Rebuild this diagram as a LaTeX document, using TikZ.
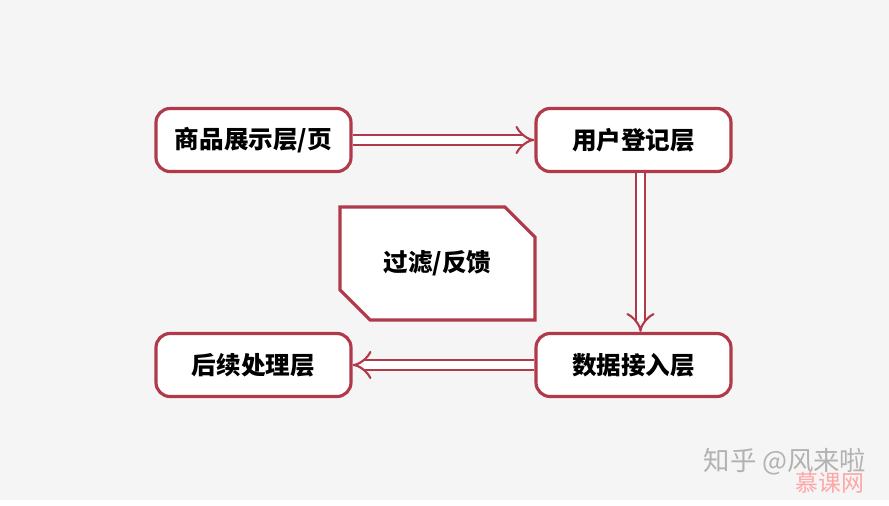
\documentclass[tikz,border=0pt]{standalone}
\usepackage{fontspec}
\newfontfamily\cjk{Noto Sans CJK SC}
\usepackage{tikz}
\usetikzlibrary{arrows.meta,shapes.misc,positioning}
\definecolor{boxred}{HTML}{B03A4A}
\definecolor{bggray}{HTML}{F5F5F5}

\begin{document}
\begin{tikzpicture}[y=-1cm,
    layer/.style={draw=boxred, line width=0.9pt, fill=white, rounded corners=4pt,
        minimum width=1.95cm, minimum height=0.63cm, font=\cjk\bfseries\fontsize{7}{8}\selectfont},
    flow/.style={draw=boxred, line width=0.6pt, double=white, double distance=2.2pt, -Implies}]
            \fill [bggray] (0,0) rectangle (8.89,5);
            \node [layer] (goods) at (2.535,1.40) {商品展示层/页};
            \node [layer] (user) at (6.335,1.40) {用户登记层};
            \node [layer] (data) at (6.335,3.65) {数据接入层};
            \node [layer] (after) at (2.535,3.65) {后续处理层};
            \node [layer, rounded corners=0pt, chamfered rectangle, chamfered rectangle xsep=0.2cm,
                chamfered rectangle corners={north east,south west},
                minimum width=1.95cm, minimum height=1.13cm] (filter) at (4.375,2.635) {过滤/反馈};
            \draw [flow] (goods) -- (user);
            \draw [flow] (user.south) ++(0.07,0) coordinate (u) -- (u |- data.north);
            \draw [flow] (data) -- (after);
            \node [font=\cjk\fontsize{7.5}{8}\selectfont, text=gray!60] (zhihu) at (7.85,4.62) {知乎 @风来啦};
            \node [font=\cjk\fontsize{6.5}{7}\selectfont, text=red!35] (imooc) at (8.3,4.83) {慕课网};
\end{tikzpicture}
\end{document}
